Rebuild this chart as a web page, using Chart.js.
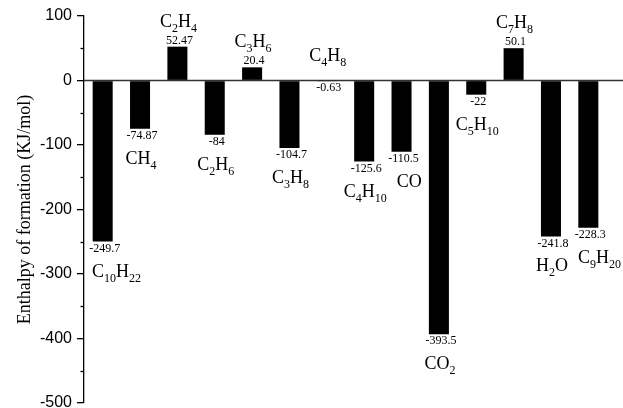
<!DOCTYPE html>
<html>
<head>
<meta charset="utf-8">
<script src="https://cdn.jsdelivr.net/npm/chart.js@4.4.1/dist/chart.umd.min.js"></script>
<style>
  html, body { margin: 0; padding: 0; background: #fff; }
  #wrap { width: 623px; height: 408px; }
</style>
</head>
<body>
<div id="wrap"><canvas id="chart"></canvas></div>
<script>
const species = ["C10H22", "CH4", "C2H4", "C2H6", "C3H6", "C3H8", "C4H8",
  "C4H10", "CO", "CO2", "C5H10", "C7H8", "H2O", "C9H20"];
const enthalpy = [-249.7, -74.87, 52.47, -84, 20.4, -104.7, -0.63,
  -125.6, -110.5, -393.5, -22, 50.1, -241.8, -228.3];
const valueText = ["-249.7", "-74.87", "52.47", "-84", "20.4", "-104.7", "-0.63",
  "-125.6", "-110.5", "-393.5", "-22", "50.1", "-241.8", "-228.3"];
const yTicks = [-500, -400, -300, -200, -100, 0, 100];

const SERIF = "'Liberation Serif', 'Times New Roman', serif";

// split "C10H22" into letter runs and subscript digit runs
function formulaParts(str) {
  return str.match(/[A-Za-z]+|\d+/g).map(s => ({ text: s, sub: /\d/.test(s) }));
}

function measureFormula(ctx, parts) {
  let width = 0;
  parts.forEach(p => {
    ctx.font = (p.sub ? "12px " : "18px ") + SERIF;
    p.w = ctx.measureText(p.text).width;
    width += p.w;
  });
  return width;
}

function drawFormula(ctx, parts, x, cy) {
  ctx.textAlign = "left";
  ctx.textBaseline = "alphabetic";
  parts.forEach(p => {
    ctx.font = (p.sub ? "12px " : "18px ") + SERIF;
    ctx.fillText(p.text, x, cy + 6 + (p.sub ? 5 : 0));
    x += p.w;
  });
}

const extras = {
  id: "extras",
  beforeDatasetsDraw(chart) {
    const ctx = chart.ctx;
    const y = chart.scales.y;
    const area = chart.chartArea;
    ctx.save();
    ctx.strokeStyle = "#000";
    ctx.lineWidth = 1.3;
    // minor ticks
    for (let v = -450; v <= 50; v += 100) {
      const py = Math.round(y.getPixelForValue(v)) + 0.5;
      ctx.beginPath();
      ctx.moveTo(area.left - 3.5, py);
      ctx.lineTo(area.left, py);
      ctx.stroke();
    }
    // zero line running to the right edge
    const zy = y.getPixelForValue(0);
    ctx.strokeStyle = "#333";
    ctx.beginPath();
    ctx.moveTo(area.left, zy);
    ctx.lineTo(chart.width, zy);
    ctx.stroke();
    ctx.restore();
  },
  afterDatasetsDraw(chart) {
    const ctx = chart.ctx;
    const meta = chart.getDatasetMeta(0);
    const area = chart.chartArea;
    ctx.save();
    ctx.fillStyle = "#000";
    let prevRight = -Infinity, prevY = -Infinity;
    meta.data.forEach((bar, i) => {
      const v = enthalpy[i];
      ctx.font = "12px " + SERIF;
      ctx.textAlign = "center";
      ctx.textBaseline = "middle";
      ctx.fillText(valueText[i], bar.x + 2, v > 0 ? bar.y - 6 : bar.y + 7);

      const parts = formulaParts(species[i]);
      const w = measureFormula(ctx, parts);
      const fy = v > -1 ? bar.y - 26 : bar.y + 29;
      let left = Math.max(bar.x + 1 - w / 2, area.left + 8);
      if (Math.abs(fy - prevY) < 20 && left < prevRight + 10) left = prevRight + 10;
      drawFormula(ctx, parts, left, fy);
      prevRight = left + w;
      prevY = fy;
    });
    ctx.restore();
  }
};

new Chart(document.getElementById("chart"), {
  type: "bar",
  data: {
    labels: species,
    datasets: [{
      data: enthalpy,
      backgroundColor: "#000",
      borderWidth: 0,
      categoryPercentage: 1,
      barPercentage: 0.536
    }]
  },
  options: {
    responsive: true,
    maintainAspectRatio: false,
    animation: false,
    layout: { padding: { top: 16, bottom: 5, left: 0, right: 16 } },
    plugins: {
      legend: { display: false },
      tooltip: { enabled: false }
    },
    scales: {
      x: { display: false },
      y: {
        min: -500,
        max: 100,
        afterBuildTicks(scale) {
          scale.ticks = yTicks.map(v => ({ value: v }));
        },
        afterFit(scale) {
          scale.width = 84;
          scale.paddingTop = 0;
          scale.paddingBottom = 0;
        },
        border: { display: true, color: "#000", width: 1.3 },
        grid: { drawOnChartArea: false, drawTicks: true, tickLength: 7, color: "#000", lineWidth: 1.3 },
        ticks: {
          padding: 5,
          color: "#000",
          font: { family: "'Liberation Sans', Arial, sans-serif", size: 16 }
        },
        title: {
          display: true,
          text: "Enthalpy of formation (KJ/mol)",
          color: "#000",
          padding: { top: 14, bottom: 0 },
          font: { family: SERIF, size: 18 }
        }
      }
    }
  },
  plugins: [extras]
});
</script>
</body>
</html>
